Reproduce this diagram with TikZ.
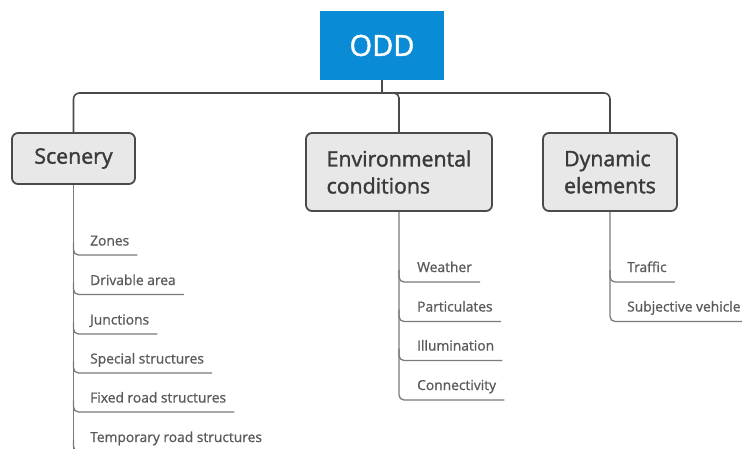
\documentclass[tikz,border=0pt]{standalone}
\usepackage{fontspec}
\setmainfont{Open Sans}
\newfontfamily\headfont{Open Sans}[FakeBold=1.6]
\newfontfamily\itemfont{Open Sans}[FakeBold=1.0]
\usetikzlibrary{calc}
\definecolor{oddblue}{HTML}{0A8BD6}
\definecolor{boxfill}{HTML}{E8E8E8}
\definecolor{boxline}{HTML}{4A4A4A}
\definecolor{headtext}{HTML}{3A3A3A}
\definecolor{itemtext}{HTML}{5A5A5A}
\definecolor{busline}{HTML}{4A4A4A}
\definecolor{ulinecol}{HTML}{7A7A7A}
\begin{document}
\begin{tikzpicture}[x=1pt,y=-1pt,
  oddbox/.style={fill=oddblue, draw=none, text=white, minimum width=124pt, minimum height=69pt, font=\headfont\fontsize{29}{32}\selectfont},
  catbox/.style={fill=boxfill, draw=boxline, line width=1.8pt, rounded corners=6pt, text=headtext, align=left, font=\headfont\fontsize{21.3}{27}\selectfont},
  item/.style={inner sep=0pt, text=itemtext, font=\itemfont\fontsize{13.8}{15}\selectfont},
  bus/.style={draw=busline, line width=1.6pt},
  uline/.style={draw=ulinecol, line width=1.3pt, rounded corners=5pt}]
\useasboundingbox (0,0) rectangle (742,448);
\clip (0,0) rectangle (742,448);
% top node
\node[oddbox] (odd) at (382,45.5) {ODD};
% category boxes
\node[catbox, minimum width=123pt, minimum height=51pt] (scen) at (73.5,158.5) {Scenery};
\node[catbox, minimum width=186pt, minimum height=78pt] (env) at (399,172) {Environmental\\conditions};
\node[catbox, minimum width=134pt, minimum height=78pt] (dyn) at (610,172) {Dynamic\\elements};
% bus
\coordinate (bus) at (382,93);
\draw[bus] (odd.south) -- (bus);
\draw[bus, rounded corners=6pt] (scen.north) -- (scen.north |- bus) -- (dyn.north |- bus) -- (dyn.north);
\draw[bus, rounded corners=5pt] ($(env.north |- bus)+(-9,0)$) -- (env.north |- bus) -- (env.north);
% scenery items
\node[item, anchor=base west] (s1) at (90,245.5) {Zones};
\node[item, anchor=base west] (s2) at (90,285) {Drivable area};
\node[item, anchor=base west] (s3) at (90,324.5) {Junctions};
\node[item, anchor=base west] (s4) at (90,363.5) {Special structures};
\node[item, anchor=base west] (s5) at (90,402.5) {Fixed road structures};
\node[item, anchor=base west] (s6) at (90,442) {Temporary road structures};
\coordinate (strunk) at (scen.south |- 0,460);
\draw[uline] (scen.south) -- (strunk);
\foreach \n in {s1,s2,s3,s4,s5,s6}{
  \coordinate (\n e) at ($(\n.base east)+(8,9.5)$);
  \draw[uline] ($(scen.south |- \n e)+(0,-12)$) -- (scen.south |- \n e) -- (\n e);
}
% environmental items
\node[item, anchor=base west] (e1) at (417,272) {Weather};
\node[item, anchor=base west] (e2) at (417,311.5) {Particulates};
\node[item, anchor=base west] (e3) at (417,350.5) {Illumination};
\node[item, anchor=base west] (e4) at (417,390) {Connectivity};
\foreach \n in {e1,e2,e3,e4}{
  \coordinate (\n e) at ($(\n.base east)+(8,10)$);
}
\draw[uline] (env.south) |- (e4e);
\foreach \n in {e1,e2,e3}{
  \draw[uline] ($(env.south |- \n e)+(0,-12)$) -- (env.south |- \n e) -- (\n e);
}
% dynamic items
\node[item, anchor=base west] (d1) at (627,272) {Traffic};
\node[item, anchor=base west] (d2) at (627,311.5) {Subjective vehicle};
\foreach \n in {d1,d2}{
  \coordinate (\n e) at ($(\n.base east)+(8,10)$);
}
\draw[uline] (dyn.south) |- (d2e);
\draw[uline] ($(dyn.south |- d1e)+(0,-12)$) -- (dyn.south |- d1e) -- (d1e);
\end{tikzpicture}
\end{document}
